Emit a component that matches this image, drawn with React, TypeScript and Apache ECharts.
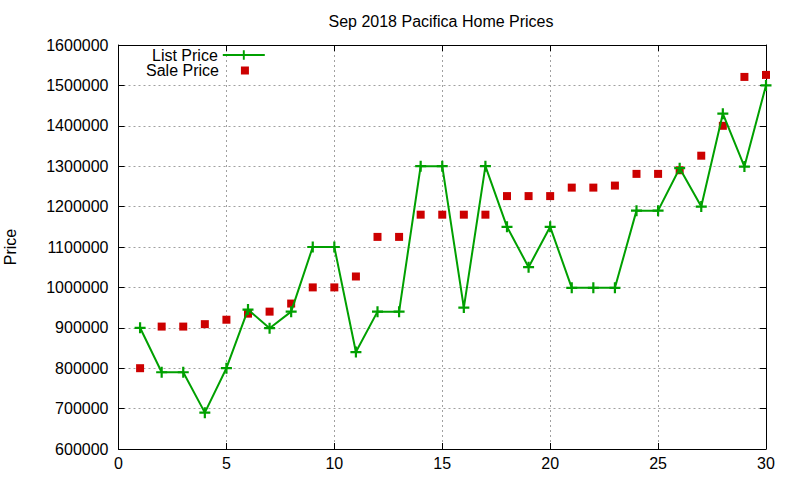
import React, { useEffect, useRef } from 'react';
import * as echarts from 'echarts';

const days = [1, 2, 3, 4, 5, 6, 7, 8, 9, 10, 11, 12, 13, 14, 15, 16, 17, 18, 19, 20, 21, 22, 23, 24, 25, 26, 27, 28, 29, 30];

const listPrice = [
  900000, 790000, 790000, 690000, 800000, 945000, 899000, 940000, 1100000, 1100000,
  840000, 940000, 940000, 1300000, 1300000, 950000, 1300000, 1150000, 1050000, 1150000,
  999000, 999000, 999000, 1190000, 1190000, 1295000, 1200000, 1430000, 1299000, 1500000,
];

const salePrice = [
  800000, 903000, 903000, 909000, 920000, 935000, 940000, 960000, 1000000, 1000000,
  1027000, 1125000, 1125000, 1180000, 1180000, 1180000, 1180000, 1226000, 1226000, 1226000,
  1247000, 1247000, 1252000, 1281000, 1281000, 1290000, 1326000, 1400000, 1521000, 1526000,
];

const FONT = 'Liberation Sans, Arial, sans-serif';
const GREEN = '#00a000';
const RED = '#cc0000';
const PLUS = 'path://M4,0 H6 V4 H10 V6 H6 V10 H4 V6 H0 V4 H4 Z';
const SQUARE = 'path://M0,0 H10 V10 H0 Z';

const App: React.FC = () => {
  const chartRef = useRef<HTMLDivElement>(null);

  useEffect(() => {
    if (!chartRef.current) return;
    const chart = echarts.init(chartRef.current, undefined, { renderer: 'svg' });

    const gridLine = { show: true, lineStyle: { color: '#a0a0a0', type: [2, 3] as any, width: 1 } };
    const axisLine = { show: true, onZero: false, lineStyle: { color: '#000', width: 1 } };
    const tick = { show: true, inside: true, length: 6, lineStyle: { color: '#000' } };
    const label = { color: '#000', fontSize: 16, fontFamily: FONT };
    const legendText = { fontSize: 16, color: '#000', fontFamily: FONT };

    const option: any = {
      animation: false,
      backgroundColor: '#fff',
      title: {
        text: 'Sep 2018 Pacifica Home Prices',
        left: 441,
        top: 13,
        padding: 0,
        textAlign: 'center',
        textStyle: { fontSize: 16, fontWeight: 'normal', color: '#000', fontFamily: FONT },
      },
      legend: [
        {
          left: 152,
          top: 47,
          padding: 0,
          align: 'right',
          itemWidth: 42,
          itemHeight: 12,
          textStyle: legendText,
          data: ['List Price'],
        },
        {
          left: 146,
          top: 62.5,
          padding: 0,
          align: 'right',
          itemWidth: 42,
          itemHeight: 8,
          textStyle: legendText,
          data: [{ name: 'Sale Price', icon: SQUARE }],
        },
      ],
      grid: { left: 118.5, right: 34, top: 45, bottom: 31, outerBoundsMode: 'none' },
      xAxis: [
        {
          type: 'value',
          min: 0,
          max: 30,
          interval: 5,
          axisLine,
          axisTick: tick,
          axisLabel: { ...label, margin: 6 },
          splitLine: gridLine,
        },
        {
          type: 'value',
          position: 'top',
          min: 0,
          max: 30,
          interval: 5,
          axisLine,
          axisTick: tick,
          axisLabel: { show: false },
          splitLine: { show: false },
        },
      ],
      yAxis: [
        {
          type: 'value',
          min: 600000,
          max: 1600000,
          interval: 100000,
          name: 'Price',
          nameLocation: 'middle',
          nameGap: 100,
          nameRotate: 90,
          nameTextStyle: { fontSize: 16, color: '#000', fontFamily: FONT },
          axisLine,
          axisTick: tick,
          axisLabel: { ...label, margin: 10, formatter: (v: number) => String(v) },
          splitLine: gridLine,
        },
        {
          type: 'value',
          position: 'right',
          min: 600000,
          max: 1600000,
          interval: 100000,
          axisLine,
          axisTick: tick,
          axisLabel: { show: false },
          splitLine: { show: false },
        },
      ],
      series: [
        {
          name: 'List Price',
          type: 'line',
          data: days.map((d, i) => [d, listPrice[i]]),
          symbol: PLUS,
          symbolSize: 11,
          showAllSymbol: true,
          itemStyle: { color: GREEN, opacity: 1 },
          lineStyle: { color: GREEN, width: 2 },
          z: 3,
        },
        {
          name: 'Sale Price',
          type: 'scatter',
          data: days.map((d, i) => [d, salePrice[i]]),
          symbol: 'rect',
          symbolSize: 8,
          itemStyle: { color: RED, opacity: 1 },
          z: 2,
        },
      ],
    };

    chart.setOption(option);
    return () => chart.dispose();
  }, []);

  return (
    <div
      ref={chartRef}
      style={{ position: 'absolute', left: 0, top: 0, width: 800, height: 480 }}
    />
  );
};

export default App;
